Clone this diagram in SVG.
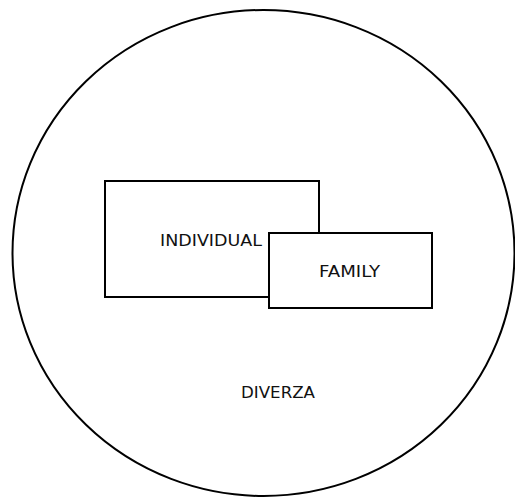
<svg xmlns="http://www.w3.org/2000/svg" width="515" height="497" viewBox="0 0 515 497">
<style>
.shape{fill:#fff;stroke:#000;stroke-width:2}
.lbl{font-family:"DejaVu Sans","Liberation Sans",sans-serif;font-size:15px;fill:#111}
</style>
<rect width="515" height="497" fill="#fff"/>
<g id="diverza">
<ellipse class="shape" cx="263.5" cy="253" rx="251" ry="243"/>
<text class="lbl" x="241" y="398" textLength="74" lengthAdjust="spacingAndGlyphs">DIVERZA</text>
</g>
<g id="individual">
<rect class="shape" x="105" y="181" width="214" height="116"/>
<text class="lbl" x="160" y="246" textLength="102" lengthAdjust="spacingAndGlyphs">INDIVIDUAL</text>
</g>
<g id="family">
<rect class="shape" x="269" y="233" width="163" height="75"/>
<text class="lbl" x="319" y="277" textLength="61" lengthAdjust="spacingAndGlyphs">FAMILY</text>
</g>
<g id="connectors"></g>
</svg>
